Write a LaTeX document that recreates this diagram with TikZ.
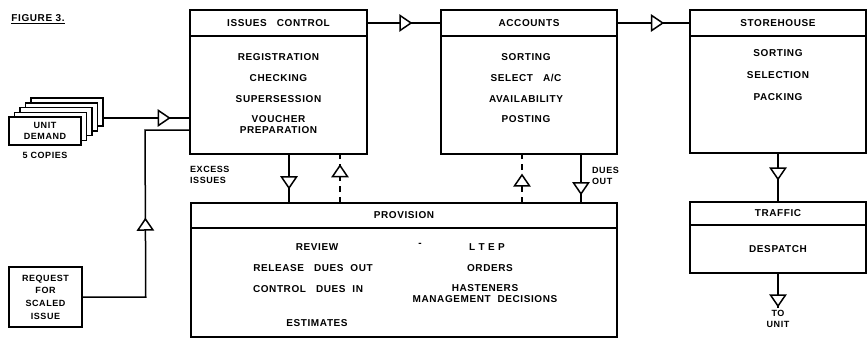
\documentclass[tikz,border=0pt]{standalone}
\usepackage{fontspec}
\setmainfont{Liberation Sans}[LetterSpace=6]
\usetikzlibrary{positioning,shapes.geometric}

\begin{document}
\begin{tikzpicture}[x=1pt, y=-1pt,
    every node/.style={font=\bfseries\fontsize{10}{11}\selectfont},
    hdr/.style={draw, line width=1.5pt, outer sep=0pt, inner sep=0pt, minimum height=26pt},
    body/.style={draw, line width=1.5pt, outer sep=0pt, inner sep=0pt},
    list/.style={align=center, inner sep=0pt},
    card/.style={draw, line width=1.5pt, fill=white, minimum width=72pt, minimum height=28pt, inner sep=0pt, align=center},
    small/.style={font=\bfseries\fontsize{9}{11}\selectfont, align=center, inner sep=0pt},
    tri/.style={isosceles triangle, isosceles triangle stretches, draw, solid, fill=white, line width=1.5pt,
                minimum width=15pt, minimum height=11pt, inner sep=0pt, sloped, allow upside down},
    flow/.style={line width=1.5pt},
    back/.style={flow, dash pattern=on 6pt off 5pt}
]
\useasboundingbox (0,0) rectangle (867,346);

\node[font=\bfseries\fontsize{10}{11}\selectfont, inner sep=0pt] (fig) at (38,19) {\underline{FIGURE 3.}};

% issues control
\node[hdr, minimum width=177pt] (ich) at (278.5,23) {ISSUES\quad CONTROL};
\node[body, below=0pt of ich, minimum width=177pt, minimum height=118pt] (icb) {};
\node[list, below=17pt of ich] (icl) {REGISTRATION\\[10pt] CHECKING\\[10pt] SUPERSESSION\\[9pt] VOUCHER\\ PREPARATION};

% accounts
\node[hdr, minimum width=176pt] (acch) at (529,23) {ACCOUNTS};
\node[body, below=0pt of acch, minimum width=176pt, minimum height=118pt] (accb) {};
\node[list, below=17pt of acch, xshift=-3pt] (accl) {SORTING\\[10pt] SELECT\quad A/C\\[10pt] AVAILABILITY\\[9pt] POSTING};

% storehouse
\node[hdr, minimum width=176pt] (stoh) at (778,23) {STOREHOUSE};
\node[body, below=0pt of stoh, minimum width=176pt, minimum height=117pt] (stob) {};
\node[list, below=13pt of stoh] (stol) {SORTING\\[11pt] SELECTION\\[11pt] PACKING};

% traffic
\node[hdr, minimum width=176pt, minimum height=23pt] (trfh) at (778,213.5) {TRAFFIC};
\node[body, below=0pt of trfh, minimum width=176pt, minimum height=48pt] (trfb) {DESPATCH};

% provision
\node[hdr, minimum width=426pt, minimum height=25pt] (prh) at (404,215.5) {PROVISION};
\node[body, below=0pt of prh, minimum width=426pt, minimum height=109pt] (prb) {};
\node[list] (rev) at (317,247) {REVIEW};
\node[list] (rel) at (313,268) {RELEASE\quad DUES\ \ OUT};
\node[list] (con) at (308,289) {CONTROL\quad DUES\ \ IN};
\node[list] (est) at (317,323) {ESTIMATES};
\node[list] (dash) at (420,245) {-};
\node[list] (ltep) at (487,247) {L\ T\ E\ P};
\node[list] (ord) at (490,268) {ORDERS};
\node[list] (mgt) at (485,294) {HASTENERS\\ MANAGEMENT\ \ DECISIONS};

% unit demand and request
\foreach \k in {4,3,2,1}
  \node[card] (dem\k) at (45+5.5*\k, 131-4.75*\k) {};
\node[card, font=\bfseries\fontsize{9}{11}\selectfont] (dem) at (45,131) {UNIT\\DEMAND};
\node[small] (cop) at (45,155) {5 COPIES};
\node[card, font=\bfseries\fontsize{9}{12.7}\selectfont, minimum width=73pt, minimum height=60pt] (req) at (45.5,297) {REQUEST\\FOR\\SCALED\\ISSUE};

\node[small, align=left, anchor=west] (exc) at (190,175) {EXCESS\\ ISSUES};
\node[small, align=left, anchor=west] (dout) at (592,176) {DUES\\ OUT};

\coordinate (din) at ([yshift=-6pt]dem4.east);
\coordinate (rqc) at ([xshift=63pt]req.east);
\coordinate (rqt) at (145,130);
\coordinate (ics) at ([xshift=10.5pt]icb.south);
\coordinate (icd) at ([xshift=61.5pt]icb.south);
\coordinate (acd) at ([xshift=-7pt]accb.south);
\coordinate (acs) at ([xshift=52pt]accb.south);
\coordinate (unit) at (778,308);

\draw[flow] (din) -- node[tri, pos=0.68]{} (din -| icb.west);
\draw[flow] (req.east) -- (rqc) -- node[tri, pos=0.425]{} (rqt) -- (rqt -| icb.west);
\draw[flow] (ich.east) -- node[tri, pos=0.5]{} (acch.west);
\draw[flow] (acch.east) -- node[tri, pos=0.53]{} (stoh.west);
\draw[flow] (ics) -- node[tri, pos=0.55]{} (ics |- prh.north);
\draw[back] (icd |- prh.north) -- node[tri, pos=0.62]{} (icd);
\draw[back] (acd |- prh.north) -- node[tri, pos=0.43]{} (acd);
\draw[flow] (acs) -- node[tri, pos=0.67]{} (acs |- prh.north);
\draw[flow] (stob.south) -- node[tri, pos=0.39]{} (trfh.north);
\draw[flow] (trfb.south) -- node[tri, pos=1, anchor=apex]{} (unit);
\node[small, below=2pt of unit] (tou) {TO\\UNIT};
\end{tikzpicture}
\end{document}
